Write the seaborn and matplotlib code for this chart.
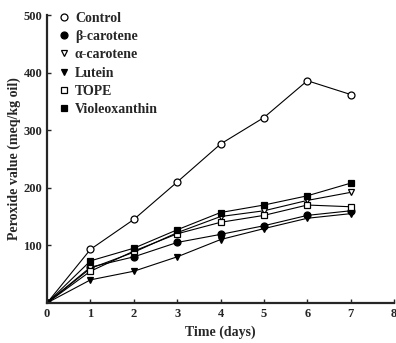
import pandas as pd
import matplotlib
matplotlib.use("Agg")
import matplotlib.pyplot as plt
import seaborn as sns

# Data
days = [0, 1, 2, 3, 4, 5, 6, 7]
control = [0, 93, 145, 210, 276, 322, 386, 362]
beta_carotene = [0, 62, 80, 105, 119, 134, 152, 160]
alpha_carotene = [0, 60, 88, 122, 150, 160, 178, 192]
lutein = [0, 40, 55, 80, 110, 129, 147, 155]
tope = [0, 55, 90, 120, 140, 152, 170, 167]
violeoxanthin = [0, 73, 95, 127, 157, 170, 186, 208]

series = [
    ("Control", control, "o", "white"),
    ("β-carotene", beta_carotene, "o", "black"),
    ("α-carotene", alpha_carotene, "v", "white"),
    ("Lutein", lutein, "v", "black"),
    ("TOPE", tope, "s", "white"),
    ("Violeoxanthin", violeoxanthin, "s", "black"),
]

sns.set_style("ticks")
plt.rcParams["font.family"] = ["Liberation Serif", "DejaVu Serif"]
plt.rcParams["font.weight"] = "bold"

fig = plt.figure(figsize=(3.96, 3.43), dpi=100)
ax = fig.add_axes([0.119, 0.117, 0.876, 0.839])

for name, vals, mk, fc in series:
    df = pd.DataFrame({"day": days, "value": vals})
    sns.lineplot(data=df, x="day", y="value", ax=ax, color="black", lw=0.8,
                 marker=mk, markersize=5, markerfacecolor=fc,
                 markeredgecolor="black", markeredgewidth=0.9, label=name)

ax.set_xlim(0, 8)
ax.set_ylim(0, 500)
ax.set_xticks(range(0, 9))
ax.set_yticks([100, 200, 300, 400, 500])
ax.tick_params(direction="in", length=3, labelsize=9, width=1)
for lbl in ax.get_xticklabels() + ax.get_yticklabels():
    lbl.set_fontweight("bold")
sns.despine(ax=ax)
ax.spines["left"].set_linewidth(1.6)
ax.spines["bottom"].set_linewidth(1.6)

ax.set_xlabel("Time (days)", fontsize=10, fontweight="bold", labelpad=4)
ax.set_ylabel("Peroxide value (meq/kg oil)", fontsize=10, fontweight="bold", labelpad=2)

leg = ax.legend(loc="upper left", bbox_to_anchor=(0.0, 1.055), frameon=False,
                handlelength=0.6, handletextpad=0.5, labelspacing=0.38,
                prop={"size": 10, "weight": "bold"})
for h in leg.legend_handles:
    h.set_linestyle("none")

fig.savefig("out.png", dpi=100)
